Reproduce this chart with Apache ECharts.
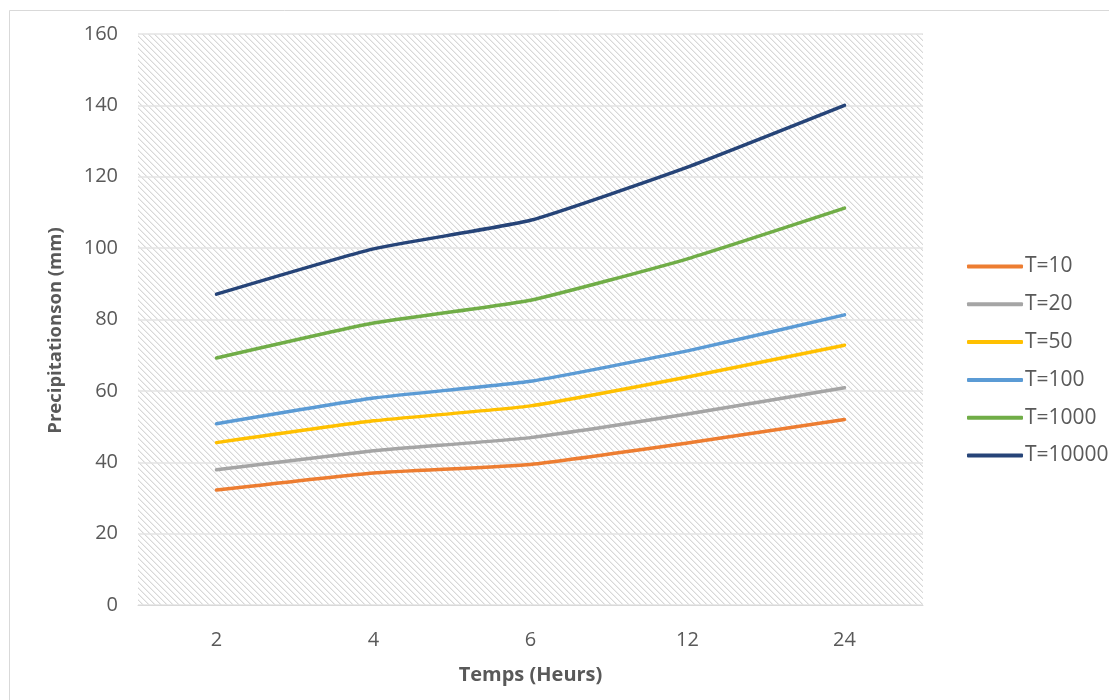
<!DOCTYPE html>
<html>
<head>
<meta charset="utf-8">
<script src="https://cdn.jsdelivr.net/npm/echarts@6/dist/echarts.min.js"></script>
<style>
  html, body { margin: 0; padding: 0; background: #ffffff; }
  #chart { width: 1109px; height: 700px; }
</style>
</head>
<body>
<div id="chart"></div>
<script>
// Durations (hours) on the category axis
const durations = ['2', '4', '6', '12', '24'];

// Precipitation (mm) per return period
const seriesNames = ['T=10', 'T=20', 'T=50', 'T=100', 'T=1000', 'T=10000'];
const t10    = [32.2, 37.0, 39.4, 45.4, 52.0];
const t20    = [37.9, 43.2, 46.9, 53.5, 60.9];
const t50    = [45.5, 51.6, 55.8, 63.9, 72.8];
const t100   = [50.8, 58.0, 62.7, 71.2, 81.3];
const t1000  = [69.2, 79.0, 85.4, 97.0, 111.2];
const t10000 = [87.1, 99.8, 107.8, 122.7, 140.0];
const seriesValues = [t10, t20, t50, t100, t1000, t10000];
const seriesColors = ['#ED7D31', '#A5A5A5', '#FFC000', '#5B9BD5', '#70AD47', '#264478'];

// Value axis ticks
const yMin = 0, yMax = 160, yStep = 20;

const FONT = '"Open Sans", sans-serif';
const TEXT_COLOR = '#595959';

// Light downward-diagonal hatch used as the plot background
function makeHatch() {
  const size = 6;
  const c = document.createElement('canvas');
  c.width = size; c.height = size;
  const ctx = c.getContext('2d');
  ctx.fillStyle = '#ffffff';
  ctx.fillRect(0, 0, size, size);
  for (let i = 0; i < size; i++) {
    ctx.fillStyle = '#d8d8d8';
    ctx.fillRect(i, i, 1, 1);
    ctx.fillStyle = '#eeeeee';
    ctx.fillRect((i + 1) % size, i, 1, 1);
  }
  return c;
}

const chart = echarts.init(document.getElementById('chart'), null, { renderer: 'canvas' });

chart.setOption({
  backgroundColor: '#ffffff',
  animation: false,
  graphic: [{
    type: 'rect',
    left: 7, top: 8,
    shape: { width: 1110, height: 720 },
    style: { fill: 'none', stroke: '#d9d9d9', lineWidth: 1 },
    silent: true, z: -1
  }],
  grid: {
    left: 138, right: 186, top: 34, bottom: 95,
    show: true,
    borderWidth: 0,
    backgroundColor: { image: makeHatch(), repeat: 'repeat' }
  },
  legend: {
    orient: 'vertical',
    left: 962, top: 251,
    itemWidth: 56, itemHeight: 4,
    itemGap: 16.8,
    icon: 'roundRect',
    textStyle: { fontFamily: FONT, fontSize: 21, color: TEXT_COLOR, padding: [0, 0, 0, -3] },
    data: seriesNames
  },
  xAxis: {
    type: 'category',
    data: durations,
    boundaryGap: true,
    name: 'Temps (Heurs)',
    nameLocation: 'middle',
    nameGap: 60,
    nameTextStyle: { fontFamily: FONT, fontSize: 20, fontWeight: 'bold', color: TEXT_COLOR },
    axisLine: { lineStyle: { color: '#d9d9d9', width: 1 } },
    axisTick: { show: false },
    axisLabel: { fontFamily: FONT, fontSize: 20, color: TEXT_COLOR, margin: 25 }
  },
  yAxis: {
    type: 'value',
    min: yMin, max: yMax, interval: yStep,
    name: 'Precipitationson (mm)',
    nameLocation: 'middle',
    nameGap: 73,
    nameRotate: 90,
    nameTextStyle: { fontFamily: FONT, fontSize: 18.5, fontWeight: 'bold', color: TEXT_COLOR, padding: [0, 0, 0, -22] },
    axisLine: { show: false },
    axisTick: { show: false },
    axisLabel: { fontFamily: FONT, fontSize: 20, color: TEXT_COLOR, margin: 20 },
    splitLine: { lineStyle: { color: '#e3e3e3', width: 1.5 } }
  },
  series: seriesNames.map((name, i) => ({
    name: name,
    type: 'line',
    data: seriesValues[i],
    color: seriesColors[i],
    symbol: 'none',
    smooth: 0.15,
    lineStyle: { width: 3.5, color: seriesColors[i], cap: 'round', join: 'round' },
    itemStyle: { color: seriesColors[i] }
  }))
});
</script>
</body>
</html>
